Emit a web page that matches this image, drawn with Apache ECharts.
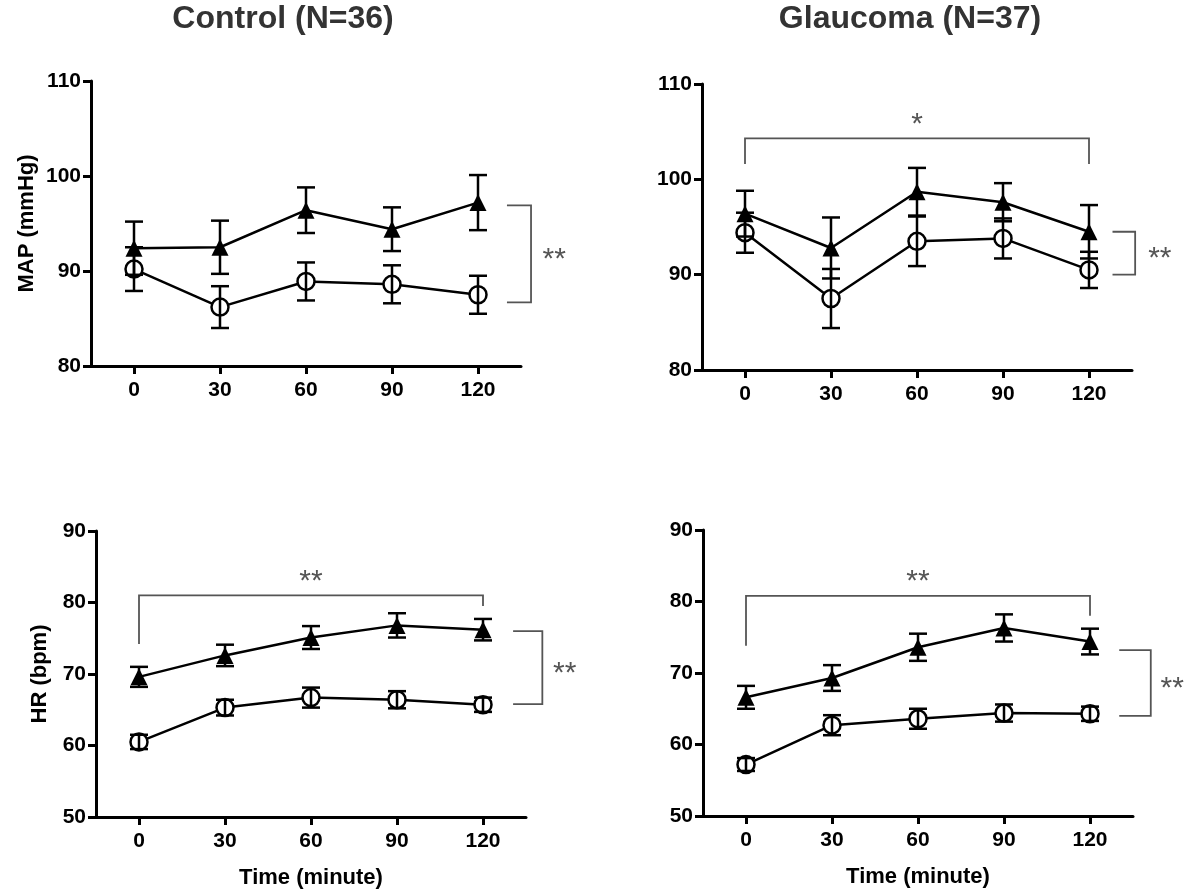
<!DOCTYPE html>
<html lang="en">
<head>
    <meta charset="UTF-8">
    <title>MAP / HR</title>
    <style>
        body, html { margin: 0; padding: 0; background: #fff; }
        #main { width: 1192px; height: 892px; }
    </style>
</head>
<body>
<div id="main"></div>
<script src="https://cdn.jsdelivr.net/npm/echarts@6/dist/echarts.min.js"></script>
<script>
    // time points (minute)
    var times = [0, 30, 60, 90, 120];
    var tickLabels = ['0', '30', '60', '90', '120'];

    // Control MAP
    var ctlMapTri = [92.4, 92.5, 96.4, 94.4, 97.2];
    var ctlMapTriSem = [2.8, 2.8, 2.4, 2.3, 2.9];
    var ctlMapCirc = [90.2, 86.2, 88.9, 88.6, 87.5];
    var ctlMapCircSem = [2.3, 2.2, 2.0, 2.0, 2.0];

    // Glaucoma MAP
    var glaMapTri = [96.4, 92.8, 98.7, 97.6, 94.5];
    var glaMapTriSem = [2.4, 3.2, 2.5, 2.0, 2.8];
    var glaMapCirc = [94.4, 87.5, 93.5, 93.8, 90.5];
    var glaMapCircSem = [2.1, 3.1, 2.6, 2.1, 1.9];

    // Control HR
    var ctlHrTri = [69.6, 72.6, 75.1, 76.8, 76.2];
    var ctlHrTriSem = [1.4, 1.5, 1.6, 1.7, 1.5];
    var ctlHrCirc = [60.5, 65.3, 66.7, 66.4, 65.7];
    var ctlHrCircSem = [1.0, 1.1, 1.4, 1.2, 1.0];

    // Glaucoma HR
    var glaHrTri = [66.6, 69.3, 73.6, 76.3, 74.4];
    var glaHrTriSem = [1.6, 1.8, 1.9, 1.9, 1.8];
    var glaHrCirc = [57.2, 62.7, 63.6, 64.4, 64.3];
    var glaHrCircSem = [0.9, 1.4, 1.4, 1.2, 1.0];

    // significance brackets, in data units
    // right: [xStart, xVert, yTop, yBottom, xLabel]
    var ctlMapRight = [130.1, 138.5, 96.9, 86.7, 146.6];
    var glaMapRight = [128.2, 136.1, 94.5, 90.0, 144.7];
    var ctlHrRight = [130.5, 140.7, 76.0, 65.8, 148.5];
    var glaHrRight = [130.2, 141.2, 73.2, 64.0, 148.7];
    // top: [x0, x1, yLine, yLeftEnd, yRightEnd]
    var glaMapTop = [0, 120, 104.3, 101.6, 101.6];
    var ctlHrTop = [0, 120, 81.0, 74.2, 79.5];
    var glaHrTop = [0, 120, 80.8, 73.8, 78.0];

    var FONT = 'Liberation Sans, Arial, sans-serif';
    var STAR = '#555';

    function pts(ys) {
        return times.map(function (t, i) { return [t, ys[i]]; });
    }
    function errs(ys, sem) {
        return times.map(function (t, i) { return [t, ys[i], sem[i]]; });
    }

    function renderErr(params, api) {
        var x = api.value(0), m = api.value(1), s = api.value(2);
        var top = api.coord([x, m + s]);
        var bot = api.coord([x, m - s]);
        var hw = 9;
        var st = {stroke: '#000', lineWidth: 2.5};
        return {
            type: 'group',
            children: [
                {type: 'line', shape: {x1: top[0], y1: top[1], x2: bot[0], y2: bot[1]}, style: st},
                {type: 'line', shape: {x1: top[0] - hw, y1: top[1], x2: top[0] + hw, y2: top[1]}, style: st},
                {type: 'line', shape: {x1: bot[0] - hw, y1: bot[1], x2: bot[0] + hw, y2: bot[1]}, style: st}
            ]
        };
    }

    function renderRight(params, api) {
        var x0 = api.value(0), xv = api.value(1), yt = api.value(2), yb = api.value(3), xl = api.value(4);
        var a = api.coord([x0, yt]), b = api.coord([xv, yt]);
        var c = api.coord([xv, yb]), d = api.coord([x0, yb]);
        var lab = api.coord([xl, (yt + yb) / 2]);
        return {
            type: 'group',
            children: [
                {type: 'polyline', shape: {points: [a, b, c, d]},
                    style: {stroke: STAR, lineWidth: 1.8, fill: null}},
                {type: 'text', style: {text: '**', x: lab[0], y: lab[1] + 6, fill: STAR,
                    fontSize: 30, fontFamily: FONT, align: 'center', verticalAlign: 'middle'}}
            ]
        };
    }

    function renderTop(label) {
        return function (params, api) {
            var x0 = api.value(0), x1 = api.value(1), y = api.value(2), yl = api.value(3), yr = api.value(4);
            var p1 = api.coord([x0, yl]), p2 = api.coord([x0, y]);
            var p3 = api.coord([x1, y]), p4 = api.coord([x1, yr]);
            var lab = api.coord([(x0 + x1) / 2, y]);
            return {
                type: 'group',
                children: [
                    {type: 'polyline', shape: {points: [p1, p2, p3, p4]},
                        style: {stroke: STAR, lineWidth: 1.8, fill: null}},
                    {type: 'text', style: {text: label, x: lab[0], y: lab[1] - 14, fill: STAR,
                        fontSize: 30, fontFamily: FONT, align: 'center', verticalAlign: 'middle'}}
                ]
            };
        };
    }

    var grids = [
        {left: 91, top: 81, width: 430, height: 285},
        {left: 702, top: 84, width: 430, height: 286},
        {left: 96, top: 531, width: 430, height: 286},
        {left: 703, top: 530, width: 430, height: 286}
    ];

    var nameStyle = {color: '#000', fontSize: 22, fontWeight: 'bold', fontFamily: FONT};

    function xAx(i, withName) {
        return {
            gridIndex: i, type: 'value', min: -15, max: 135,
            name: withName ? 'Time (minute)' : '',
            nameLocation: 'middle', nameGap: 50,
            nameTextStyle: nameStyle,
            axisLine: {show: true, onZero: false, lineStyle: {color: '#000', width: 3}},
            axisTick: {show: true, length: 8, customValues: times, lineStyle: {color: '#000', width: 3}},
            axisLabel: {customValues: times, margin: 14, color: '#000', fontSize: 21, fontWeight: 'bold',
                fontFamily: FONT, formatter: function (v) { return tickLabels[times.indexOf(v)]; }},
            splitLine: {show: false}
        };
    }
    function yAx(i, min, max, name, gap) {
        return {
            gridIndex: i, type: 'value', min: min, max: max, interval: 10,
            name: name || '', nameLocation: 'middle', nameGap: gap || 50,
            nameTextStyle: nameStyle,
            axisLine: {show: true, onZero: false, lineStyle: {color: '#000', width: 3}},
            axisTick: {show: true, length: 8, lineStyle: {color: '#000', width: 3}},
            axisLabel: {margin: 10, color: '#000', fontSize: 21, fontWeight: 'bold', fontFamily: FONT},
            splitLine: {show: false}
        };
    }

    function panelSeries(i, tri, triSem, circ, circSem, right, top, topLabel) {
        var s = [
            {type: 'line', xAxisIndex: i, yAxisIndex: i, data: pts(circ), symbol: 'circle', symbolSize: 17,
                itemStyle: {color: '#fff', borderColor: '#000', borderWidth: 2.5},
                lineStyle: {color: '#000', width: 2.5}, z: 2, animation: false},
            {type: 'line', xAxisIndex: i, yAxisIndex: i, data: pts(tri), symbol: 'triangle', symbolSize: 17,
                itemStyle: {color: '#000'}, lineStyle: {color: '#000', width: 2.5}, z: 2, animation: false},
            {type: 'custom', xAxisIndex: i, yAxisIndex: i, data: errs(circ, circSem),
                renderItem: renderErr, z: 3, animation: false, encode: {x: 0, y: 1}},
            {type: 'custom', xAxisIndex: i, yAxisIndex: i, data: errs(tri, triSem),
                renderItem: renderErr, z: 3, animation: false, encode: {x: 0, y: 1}},
            {type: 'custom', xAxisIndex: i, yAxisIndex: i, data: [right], clip: false,
                renderItem: renderRight, z: 4, animation: false, encode: {x: 0, y: 2}}
        ];
        if (top) {
            s.push({type: 'custom', xAxisIndex: i, yAxisIndex: i, data: [top], clip: false,
                renderItem: renderTop(topLabel), z: 4, animation: false, encode: {x: 0, y: 2}});
        }
        return s;
    }

    var myChart = echarts.init(document.getElementById('main'));
    myChart.setOption({
        backgroundColor: '#fff',
        animation: false,
        title: [
            {text: 'Control (N=36)', left: 278, top: -2, textAlign: 'center',
                textStyle: {fontSize: 32, fontWeight: 'bold', color: '#333', fontFamily: FONT}},
            {text: 'Glaucoma (N=37)', left: 905, top: -2, textAlign: 'center',
                textStyle: {fontSize: 32, fontWeight: 'bold', color: '#333', fontFamily: FONT}}
        ],
        grid: grids,
        xAxis: [xAx(0, false), xAx(1, false), xAx(2, true), xAx(3, true)],
        yAxis: [
            yAx(0, 80, 110, 'MAP (mmHg)', 53),
            yAx(1, 80, 110),
            yAx(2, 50, 90, 'HR (bpm)', 45),
            yAx(3, 50, 90)
        ],
        series: [].concat(
            panelSeries(0, ctlMapTri, ctlMapTriSem, ctlMapCirc, ctlMapCircSem, ctlMapRight, null),
            panelSeries(1, glaMapTri, glaMapTriSem, glaMapCirc, glaMapCircSem, glaMapRight, glaMapTop, '*'),
            panelSeries(2, ctlHrTri, ctlHrTriSem, ctlHrCirc, ctlHrCircSem, ctlHrRight, ctlHrTop, '**'),
            panelSeries(3, glaHrTri, glaHrTriSem, glaHrCirc, glaHrCircSem, glaHrRight, glaHrTop, '**')
        )
    });
</script>
</body>
</html>
